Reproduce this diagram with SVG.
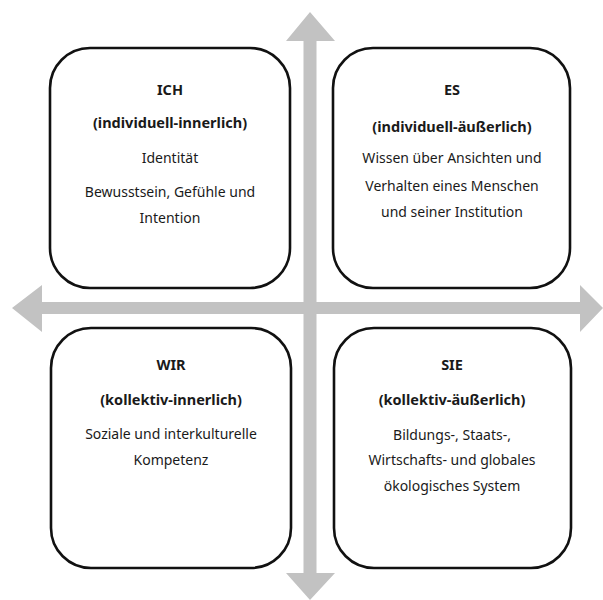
<svg xmlns="http://www.w3.org/2000/svg" width="603" height="600" viewBox="0 0 603 600">
<style>
.box{fill:#fff;stroke:#111;stroke-width:2.6}
.arr{fill:#c2c2c2}
text{font-family:"Noto Sans","Open Sans",sans-serif;font-size:14px;fill:#1a1a1a;text-anchor:middle}
.b{font-weight:bold;font-size:14.5px}
</style>
<rect width="603" height="600" fill="#fff"/>
<g id="connectors">
<polygon class="arr" points="310,12 335,41 316.5,41 316.5,302 580,302 580,285 603,308 580,332 580,314 316.5,314 316.5,573 335,573 310,600 286,573 303.5,573 303.5,314 42,314 42,332 12,308 42,285 42,302 303.5,302 303.5,41 286,41"/>
</g>
<g id="ich">
<rect class="box" x="50" y="48" width="240" height="240" rx="40"/>
<text class="b" x="170" y="95">ICH</text>
<text class="b" x="170" y="128">(individuell-innerlich)</text>
<text x="170" y="163">Identität</text>
<text x="170" y="197">Bewusstsein, Gefühle und</text>
<text x="170" y="223">Intention</text>
</g>
<g id="es">
<rect class="box" x="333" y="48" width="237" height="240" rx="40"/>
<text class="b" x="452" y="95">ES</text>
<text class="b" x="452" y="132">(individuell-äußerlich)</text>
<text x="452" y="163">Wissen über Ansichten und</text>
<text x="452" y="191">Verhalten eines Menschen</text>
<text x="452" y="217">und seiner Institution</text>
</g>
<g id="wir">
<rect class="box" x="51" y="328" width="240" height="240" rx="40"/>
<text class="b" x="171" y="370">WIR</text>
<text class="b" x="171" y="405">(kollektiv-innerlich)</text>
<text x="171" y="439">Soziale und interkulturelle</text>
<text x="171" y="465">Kompetenz</text>
</g>
<g id="sie">
<rect class="box" x="334" y="328" width="237" height="240" rx="40"/>
<text class="b" x="452" y="370">SIE</text>
<text class="b" x="452" y="405">(kollektiv-äußerlich)</text>
<text x="452" y="440">Bildungs-, Staats-,</text>
<text x="452" y="465">Wirtschafts- und globales</text>
<text x="452" y="491">ökologisches System</text>
</g>
</svg>
